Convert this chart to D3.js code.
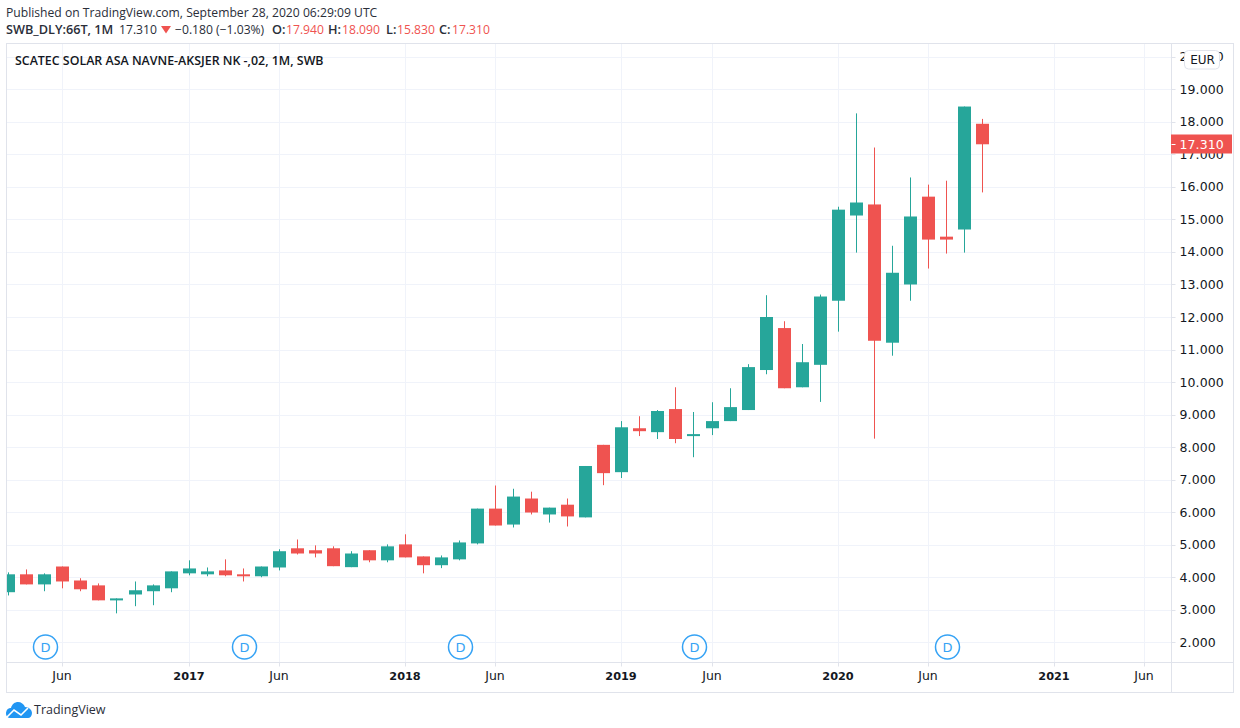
<!DOCTYPE html>
<html><head><meta charset="utf-8">
<script src="https://cdn.jsdelivr.net/npm/d3@7"></script>
<style>
html,body{margin:0;padding:0;background:#fff;}
svg{display:block;}
text{font-family:"Open Sans",sans-serif;}
.ax text{font-family:"DejaVu Sans",sans-serif;font-size:12.5px;fill:#131722;}
</style></head><body>
<svg id="c" width="1240" height="728"></svg>
<script>
// months start at Mar 2016 (index 0)
const opens  = [3.54,4.09,3.78,4.33,3.90,3.75,3.29,3.47,3.57,3.66,4.12,4.09,4.21,4.09,4.03,4.30,4.89,4.83,4.89,4.31,4.83,4.52,5.01,4.64,4.37,4.55,5.04,6.11,5.62,6.42,5.93,6.23,5.84,8.07,7.23,8.58,8.46,9.17,8.34,8.58,8.80,9.14,10.37,11.66,9.84,10.53,12.50,15.12,15.46,11.21,13.00,15.70,14.47,14.69,17.94];
const highs  = [4.15,4.24,4.12,4.33,3.97,3.81,3.35,3.87,3.78,4.18,4.52,4.30,4.55,4.27,4.33,4.86,5.16,4.98,4.95,4.80,4.83,5.01,5.32,4.64,4.67,5.13,6.11,6.82,6.72,6.63,6.14,6.42,7.42,8.07,8.80,8.95,9.14,9.84,9.08,9.38,9.81,10.55,12.67,11.87,11.17,12.69,15.39,18.26,17.21,14.19,16.29,16.07,16.19,18.47,18.09];
const lows   = [3.44,3.78,3.57,3.66,3.57,3.29,2.89,3.11,3.14,3.54,4.06,4.03,4.03,3.87,4.00,4.21,4.70,4.61,4.34,4.31,4.46,4.46,4.61,4.12,4.28,4.52,5.01,5.59,5.53,5.93,5.68,5.56,5.84,6.83,7.05,8.34,8.25,8.12,7.69,8.37,8.80,9.14,10.24,9.81,9.84,9.39,11.55,13.98,8.26,10.81,12.50,13.49,13.95,13.98,15.83];
const closes = [4.09,3.78,4.09,3.87,3.63,3.29,3.35,3.60,3.75,4.18,4.27,4.18,4.06,4.03,4.33,4.80,4.73,4.73,4.34,4.73,4.52,4.95,4.61,4.37,4.61,5.07,6.11,5.59,6.48,5.99,6.14,5.87,7.42,7.20,8.61,8.49,9.11,8.25,8.40,8.80,9.23,10.46,12.00,9.81,10.61,12.63,15.30,15.52,11.27,13.36,15.09,14.38,14.38,18.47,17.31];
const dividendMonths = [2,13,25,38,52];
const xTickMonths = [3,10,15,22,27,34,39,46,51,58,63];
const xTickLabels = ["Jun","2017","Jun","2018","Jun","2019","Jun","2020","Jun","2021","Jun"];
const yTicks = [2,3,4,5,6,7,8,9,10,11,12,13,14,15,16,17,18,19,20];
const lastPrice = 17.31;

const UP="#26a69a", DOWN="#ef5350", GRID="#f0f3fa", FRAME="#e0e3eb", TXT="#131722", HEAD="#2a2e39";
const L=6.5,T=43.5,R=1233.5,B=692.5,PR=1171.5,PB=662.5;
const monthIdx = d3.range(opens.length);
const x = d3.scaleLinear().domain([0,54]).range([8.3,982]);
const y = d3.scaleLinear().domain([2,19]).range([642.3,89.3]);
const px = v=>Math.round(x(v))+0.5;
const svg = d3.select("#c");
svg.append("defs").append("clipPath").attr("id","pl").append("rect")
   .attr("x",L+0.5).attr("y",T+0.5).attr("width",PR-L-0.5).attr("height",PB-T-0.5);

// grid
const g = svg.append("g");
g.selectAll(".gy").data(yTicks).join("line").attr("x1",L).attr("x2",PR)
  .attr("y1",d=>Math.round(y(d))+0.5).attr("y2",d=>Math.round(y(d))+0.5).attr("stroke",GRID);
g.selectAll(".gx").data(xTickMonths).join("line").attr("y1",T).attr("y2",PB)
  .attr("x1",px).attr("x2",px).attr("stroke",GRID);

// candles
const bw=13;
const pl = svg.append("g").attr("clip-path","url(#pl)");
const col = i=>closes[i]>=opens[i]?UP:DOWN;
pl.selectAll(".w").data(monthIdx).join("line")
  .attr("x1",i=>px(i)).attr("x2",i=>px(i))
  .attr("y1",i=>y(highs[i])).attr("y2",i=>y(lows[i])).attr("stroke",i=>col(i)).attr("stroke-width",1);
pl.selectAll(".b").data(monthIdx).join("rect")
  .attr("x",i=>px(i)-bw/2).attr("width",bw)
  .attr("y",i=>y(Math.max(opens[i],closes[i])))
  .attr("height",i=>Math.max(2,Math.abs(y(opens[i])-y(closes[i]))))
  .attr("fill",i=>col(i));

// dividend markers
const dv = svg.append("g").selectAll("g").data(dividendMonths).join("g")
  .attr("transform",i=>`translate(${px(i)+1},647)`);
dv.append("circle").attr("r",12).attr("fill","#fff").attr("fill-opacity",0.6).attr("stroke","#36a3f5").attr("stroke-width",1.5);
dv.append("text").attr("text-anchor","middle").attr("y",4.5).attr("font-size","13px").attr("fill","#36a3f5")
  .style("font-family","'DejaVu Sans',sans-serif").text("D");

// frame
svg.append("rect").attr("x",L).attr("y",T).attr("width",R-L).attr("height",B-T).attr("fill","none").attr("stroke",FRAME);
svg.append("line").attr("x1",L).attr("x2",R).attr("y1",PB).attr("y2",PB).attr("stroke",FRAME);
svg.append("line").attr("x1",PR).attr("x2",PR).attr("y1",T).attr("y2",B).attr("stroke",FRAME);

// axes
const ay = svg.append("g").attr("class","ax").attr("transform",`translate(${PR},0)`)
  .call(d3.axisRight(y).tickValues(yTicks).tickFormat(d3.format(".3f")).tickSize(4).tickPadding(4));
ay.select(".domain").remove();
ay.selectAll("line").attr("stroke",FRAME).attr("transform",d=>`translate(0,${Math.round(y(d))+0.5-y(d)-0.5})`);
ay.selectAll("text").attr("letter-spacing","0.1px");
const ax = svg.append("g").attr("class","ax").attr("transform",`translate(0,${PB})`)
  .call(d3.axisBottom(x).tickValues(xTickMonths).tickFormat((d,i)=>xTickLabels[i]).tickSize(4).tickPadding(5));
ax.select(".domain").remove();
ax.selectAll(".tick").attr("transform",d=>`translate(${px(d)},0)`);
ax.selectAll(".tick line").attr("stroke",FRAME).attr("x1",0).attr("x2",0);
ax.selectAll("text").attr("x",-0.5).style("font-weight",(d,i)=>/^\d/.test(xTickLabels[i])?"bold":"normal")
  .style("font-size",(d,i)=>/^\d/.test(xTickLabels[i])?"11.3px":null);

// last price label
const ly = y(lastPrice);
svg.append("rect").attr("x",PR-0.5).attr("y",Math.round(ly)-9.5).attr("width",61).attr("height",19).attr("fill",DOWN);
svg.append("line").attr("x1",PR).attr("x2",PR+4).attr("y1",Math.round(ly)+0.5).attr("y2",Math.round(ly)+0.5).attr("stroke","#fff");
svg.append("text").attr("x",PR+8).attr("y",Math.round(ly)+5).attr("fill","#fff").attr("font-size","12.5px")
  .attr("letter-spacing","0.1px").style("font-family","'DejaVu Sans',sans-serif").text(d3.format(".3f")(lastPrice));

// currency badge
svg.append("rect").attr("x",1184.5).attr("y",50.5).attr("width",35).attr("height",18.5).attr("rx",4)
  .attr("fill","#fff").attr("stroke",FRAME);
svg.append("text").attr("x",1202.5).attr("y",63.5).attr("text-anchor","middle").attr("font-size","12px").attr("fill",TXT)
  .style("font-family","'DejaVu Sans',sans-serif").text("EUR");

// header
const hd=(tx,ty,t,o={})=>{const e=svg.append("text").attr("x",tx).attr("y",ty).attr("font-size","12.15px").attr("fill",HEAD).text(t);
  for(const k in o)e.attr(k,o[k]);return e;};
hd(6,17,"Published on TradingView.com, September 28, 2020 06:29:09 UTC");
hd(6,34,"SWB_DLY:66T, 1M",{"font-weight":600,"font-size":"12.7px"});
hd(119,34,"17.310");
svg.append("path").attr("d","M161 26 L171 26 L166 33.5 Z").attr("fill",DOWN);
hd(175,34,"−0.180 (−1.03%)");
[["O:",272,286,"17.940"],["H:",328,342,"18.090"],["L:",386,397,"15.830"],["C:",439,452,"17.310"]].forEach(([a,ax1,bx,b])=>{
  hd(ax1,34,a,{"font-weight":600,"font-size":"12.7px"}); hd(bx,34,b,{fill:DOWN});
});
hd(15,65,"SCATEC SOLAR ASA NAVNE-AKSJER NK -,02, 1M, SWB",{"font-weight":600,"font-size":"12.4px",fill:TXT});

// logo
const logo = svg.append("g").attr("transform","translate(6,702)");
logo.append("path").attr("fill","#2196f3")
  .attr("d","M0 12 C0 8 2 6 5 6 C6 2 9 0 12 0 C15 0 18 2 19 5 C23 5 26 8 26 11 C26 14 24 16 22 16 L4 16 C2 16 0 14 0 12 Z");
logo.append("path").attr("fill","none").attr("stroke","#fff").attr("stroke-width",1.6)
  .attr("d","M1 15 L8 8 L15 13 L22 6");
svg.append("text").attr("x",34).attr("y",714).attr("font-size","12.5px").attr("fill",HEAD).text("TradingView");
</script>
</body></html>
